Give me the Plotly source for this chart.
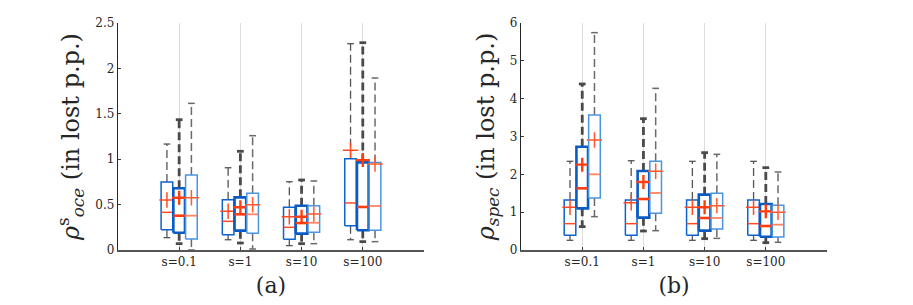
import plotly.graph_objects as go

categories = ["s=0.1", "s=1", "s=10", "s=100"]

# Panel (a): rho^s_oce ; each list holds [left box, middle box, right box] series
a_lower = [[0.136, 0.113, 0.048, 0.113], [0.07, 0.077, 0.07, 0.092], [0.0, 0.011, 0.07, 0.092]]
a_q1 = [[0.224, 0.169, 0.118, 0.268], [0.19, 0.213, 0.18, 0.217], [0.121, 0.184, 0.195, 0.217]]
a_median = [[0.415, 0.316, 0.25, 0.518], [0.378, 0.393, 0.297, 0.474], [0.378, 0.393, 0.30, 0.485]]
a_q3 = [[0.75, 0.554, 0.47, 1.006], [0.68, 0.58, 0.488, 0.965], [0.826, 0.624, 0.488, 0.965]]
a_upper = [[1.167, 0.906, 0.752, 2.272], [1.435, 1.087, 0.771, 2.283], [1.615, 1.259, 0.76, 1.894]]
a_mean = [[0.55, 0.426, 0.367, 1.098], [0.576, 0.47, 0.367, 0.99], [0.576, 0.499, 0.396, 0.947]]

# Panel (b): rho_spec
b_lower = [[0.256, 0.256, 0.256, 0.256], [0.617, 0.502, 0.30, 0.194], [0.881, 0.511, 0.308, 0.203]]
b_q1 = [[0.388, 0.388, 0.388, 0.388], [1.101, 0.855, 0.511, 0.352], [1.374, 0.97, 0.555, 0.344]]
b_median = [[0.696, 0.696, 0.696, 0.696], [1.63, 1.348, 0.846, 0.634], [2.0, 1.507, 0.846, 0.67]]
b_q3 = [[1.32, 1.32, 1.32, 1.32], [2.731, 2.088, 1.463, 1.216], [3.568, 2.344, 1.498, 1.18]]
b_upper = [[2.344, 2.36, 2.344, 2.344], [4.388, 3.471, 2.573, 2.176], [5.745, 4.273, 2.529, 2.062]]
b_mean = [[1.128, 1.25, 1.128, 1.128], [2.256, 1.797, 1.128, 1.022], [2.908, 2.08, 1.172, 0.996]]

offsets = [-0.2, 0.0, 0.2]
box_half = 0.095
cap_half = 0.055
box_colors = ["#0b63cc", "#0a5bc4", "#4a94e2"]
box_widths = [1.5, 2.6, 1.5]
wh_colors = ["#555555", "#4a4a4a", "#6a6a6a"]
wh_widths = [1.3, 2.8, 1.5]
med_colors = ["#ff4a22", "#ff3d10", "rgba(255,110,70,0.85)"]
med_widths = [1.5, 2.6, 1.8]
mean_widths = [1.5, 2.4, 1.5]
mean_sizes = [11, 10, 11]

fig = go.Figure()


def add_panel(xa, ya, lower, q1, med, q3, upper, mean):
    for s in range(3):
        xs = [i + 1 + offsets[s] for i in range(len(categories))]
        wx, wy, cx, cy = [], [], [], []
        for i, x in enumerate(xs):
            wx += [x, x, None, x, x, None]
            wy += [q3[s][i], upper[s][i], None, q1[s][i], lower[s][i], None]
            cx += [x - cap_half, x + cap_half, None, x - cap_half, x + cap_half, None]
            cy += [upper[s][i], upper[s][i], None, lower[s][i], lower[s][i], None]
        fig.add_trace(go.Scatter(x=wx, y=wy, mode="lines", xaxis=xa, yaxis=ya,
                                 line=dict(color=wh_colors[s], width=wh_widths[s], dash="8px,4px"),
                                 hoverinfo="skip", showlegend=False))
        fig.add_trace(go.Scatter(x=cx, y=cy, mode="lines", xaxis=xa, yaxis=ya,
                                 line=dict(color=wh_colors[s], width=wh_widths[s]),
                                 hoverinfo="skip", showlegend=False))
        for i, x in enumerate(xs):
            fig.add_trace(go.Scatter(
                x=[x - box_half, x + box_half, x + box_half, x - box_half, x - box_half],
                y=[q1[s][i], q1[s][i], q3[s][i], q3[s][i], q1[s][i]],
                mode="lines", fill="toself", fillcolor="white", xaxis=xa, yaxis=ya,
                line=dict(color=box_colors[s], width=box_widths[s]),
                hoverinfo="skip", showlegend=False))
        mx, my = [], []
        for i, x in enumerate(xs):
            mx += [x - box_half, x + box_half, None]
            my += [med[s][i], med[s][i], None]
        fig.add_trace(go.Scatter(x=mx, y=my, mode="lines", xaxis=xa, yaxis=ya,
                                 line=dict(color=med_colors[s], width=med_widths[s]),
                                 hoverinfo="skip", showlegend=False))
        fig.add_trace(go.Scatter(x=xs, y=mean[s], mode="markers", xaxis=xa, yaxis=ya,
                                 marker=dict(symbol="cross-thin", size=mean_sizes[s],
                                             line=dict(color=med_colors[s] if s < 2 else "#ff5a30",
                                                       width=mean_widths[s])),
                                 hoverinfo="skip", showlegend=False))


add_panel("x", "y", a_lower, a_q1, a_median, a_q3, a_upper, a_mean)
add_panel("x2", "y2", b_lower, b_q1, b_median, b_q3, b_upper, b_mean)

font_fam = "DejaVu Serif"
axis_col = "#3a3a3a"
tickvals = [i + 1 for i in range(len(categories))]

xcommon = dict(range=[0, 5], tickvals=tickvals, ticktext=categories, showgrid=True,
               gridcolor="#dcdcdc", gridwidth=1, zeroline=False, showline=True,
               linecolor="#555555", linewidth=1.5, ticks="inside", ticklen=3,
               tickcolor=axis_col, tickfont=dict(family=font_fam, size=12, color="#262626"))
ycommon = dict(showgrid=False, zeroline=False, showline=True, linecolor="#262626",
               linewidth=1.3, ticks="inside", ticklen=3, tickcolor=axis_col,
               tickfont=dict(family=font_fam, size=12, color="#262626"), domain=[0, 1])

fig.update_layout(
    width=913, height=305,
    margin=dict(l=0, r=0, t=23, b=55),
    paper_bgcolor="white", plot_bgcolor="white",
    font=dict(family=font_fam, color="#262626", size=12),
    xaxis=dict(domain=[0.1292, 0.4644], anchor="y",
               title=dict(text="(a)", font=dict(family=font_fam, size=22, color="#262626"), standoff=9),
               **xcommon),
    xaxis2=dict(domain=[0.5707, 0.9058], anchor="y2",
                title=dict(text="(b)", font=dict(family=font_fam, size=22, color="#262626"), standoff=9),
                **xcommon),
    yaxis=dict(range=[0, 2.5], tickvals=[0, 0.5, 1, 1.5, 2, 2.5],
               ticktext=["0", "0.5", "1", "1.5", "2", "2.5"], anchor="x",
               title=dict(text="<i>ρ</i><sup>s</sup><sub><i>oce</i></sub> (in lost p.p.)",
                          font=dict(family=font_fam, size=24, color="#262626"), standoff=8),
               **ycommon),
    yaxis2=dict(range=[0, 6], tickvals=[0, 1, 2, 3, 4, 5, 6], anchor="x2",
                title=dict(text="<i>ρ</i><sub><i>spec</i></sub> (in lost p.p.)",
                           font=dict(family=font_fam, size=24, color="#262626"), standoff=8),
                **ycommon),
)

fig.write_html("out.html", config={"displayModeBar": False},
               post_script="document.body.style.margin='0';")
